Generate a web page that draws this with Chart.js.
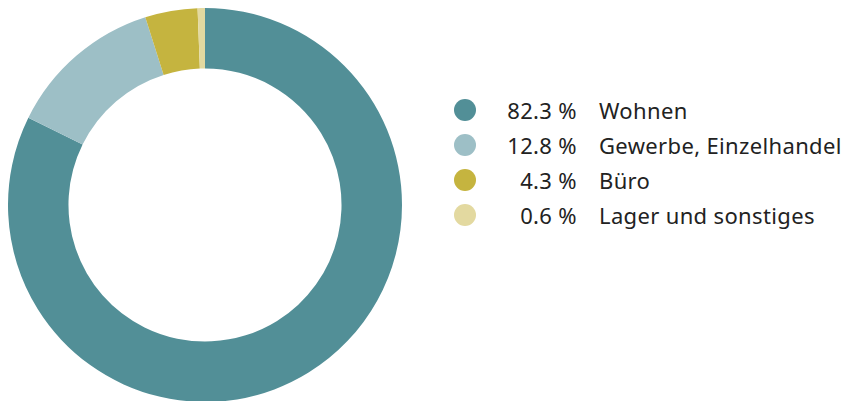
<!DOCTYPE html>
<html>
<head>
<meta charset="utf-8">
<script src="https://cdn.jsdelivr.net/npm/chart.js@4"></script>
<style>
  html, body { margin: 0; padding: 0; background: #fff; overflow: hidden; }
  body { width: 845px; height: 401px; position: relative; font-family: "Noto Sans", sans-serif; color: #222; }
  #chartBox { position: absolute; left: 8px; top: 8px; width: 394px; height: 394px; }
  #legend { position: absolute; left: 454px; top: 92px; }
  .row { display: flex; align-items: center; height: 35.2px; font-size: 22px; letter-spacing: 0.35px; white-space: nowrap; }
  .dot { width: 22px; height: 22px; border-radius: 50%; flex: none; }
  .pct { width: 101px; text-align: right; flex: none; }
  .lbl { margin-left: 22px; }
</style>
</head>
<body>
<div id="chartBox"><canvas id="donut"></canvas></div>
<div id="legend"></div>
<script>
const categories = ["Wohnen", "Gewerbe, Einzelhandel", "Büro", "Lager und sonstiges"];
const shares = [82.3, 12.8, 4.3, 0.6];
const colors = ["#528f97", "#9dbfc6", "#c5b43f", "#e3d9a0"];

const legend = document.getElementById("legend");
categories.forEach((name, i) => {
  const row = document.createElement("div");
  row.className = "row";
  row.innerHTML =
    '<span class="dot" style="background:' + colors[i] + '"></span>' +
    '<span class="pct">' + shares[i].toFixed(1) + ' %</span>' +
    '<span class="lbl">' + name + '</span>';
  legend.appendChild(row);
});

new Chart(document.getElementById("donut"), {
  type: "doughnut",
  data: {
    labels: categories,
    datasets: [{
      data: shares,
      backgroundColor: colors,
      borderWidth: 0
    }]
  },
  options: {
    responsive: true,
    maintainAspectRatio: false,
    animation: false,
    cutout: "69.3%",
    layout: { padding: 0 },
    plugins: {
      legend: { display: false },
      tooltip: { enabled: false }
    }
  }
});
</script>
</body>
</html>
